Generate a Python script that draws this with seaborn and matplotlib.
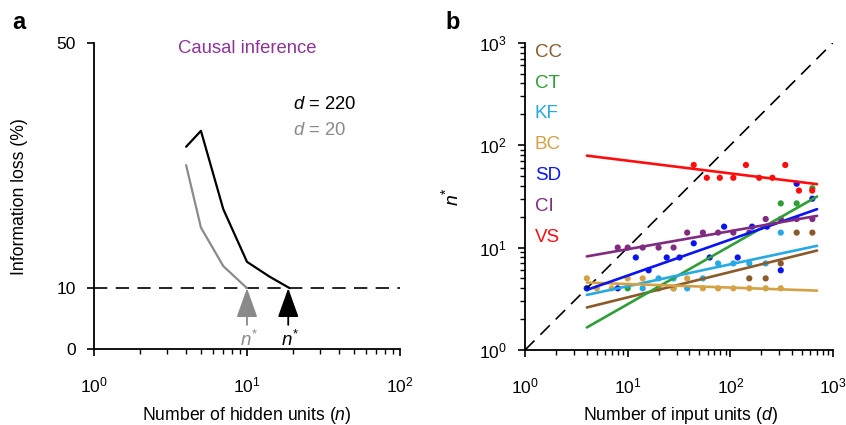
import numpy as np
import pandas as pd
import seaborn as sns
import matplotlib.pyplot as plt

# ---- panel a: information loss vs hidden units (causal inference)
n_hidden_220 = [4, 5, 7, 10, 14, 19]
loss_220 = [33.1, 35.7, 22.9, 14.3, 11.9, 10.0]
n_hidden_20 = [4, 5, 7, 10]
loss_20 = [30.1, 19.9, 13.6, 10.0]
nstar_220 = 18.6
nstar_20 = 10

# ---- panel b: n* vs number of input units
tasks = ['CC', 'CT', 'KF', 'BC', 'SD', 'CI', 'VS']
colors = ['#8B5A2B', '#2E9F36', '#27AAE1', '#D4A144', '#0A14F0', '#7F2B81', '#FF0D0D']

d_cc = [153, 221, 310, 443, 630]
n_cc = [5, 5, 7, 14, 14]
d_ct = [10, 20, 28, 310, 443, 630]
n_ct = [4, 4, 4, 27, 27, 38]
d_kf = [4, 14, 20, 28, 38, 54, 76, 107, 153, 221, 310]
n_kf = [4, 4, 5, 5, 4, 5, 7, 7, 7, 7, 14]
d_bc = [4, 5, 7, 10, 14, 20, 28, 38, 54, 76, 107, 153, 221, 310]
n_bc = [5, 4, 4, 5, 5, 4, 4, 5, 4, 4, 4, 4, 4, 4]
d_sd = [4, 8, 12, 16, 24, 32, 44, 63, 87, 118, 163, 228, 310, 443, 630]
n_sd = [4, 4, 8, 6, 8, 8, 11, 8, 16, 8, 16, 16, 6, 42, 30]
d_ci = [8, 10, 14, 20, 28, 38, 54, 76, 107, 153, 221, 310, 443, 630]
n_ci = [10, 10, 10, 10, 10, 14, 14, 14, 14, 14, 19, 19, 19, 19]
d_vs = [44, 59, 79, 107, 142, 191, 257, 343, 466, 628]
n_vs = [64, 48, 48, 48, 64, 48, 48, 64, 36, 36]

# fitted power-law lines, value at d = 4 and d = 700
fit_d = [4, 700]
fit_cc = [2.6, 9.35]
fit_ct = [1.66, 31.5]
fit_kf = [3.45, 10.4]
fit_bc = [4.55, 3.8]
fit_sd = [3.86, 23.7]
fit_ci = [8.2, 20.4]
fit_vs = [79, 41.6]

pts = pd.concat([
    pd.DataFrame({'d': d, 'n': n, 'task': t})
    for t, d, n in zip(tasks, [d_cc, d_ct, d_kf, d_bc, d_sd, d_ci, d_vs],
                       [n_cc, n_ct, n_kf, n_bc, n_sd, n_ci, n_vs])
])
fits = pd.concat([
    pd.DataFrame({'d': fit_d, 'n': f, 'task': t})
    for t, f in zip(tasks, [fit_cc, fit_ct, fit_kf, fit_bc, fit_sd, fit_ci, fit_vs])
])
pal = dict(zip(tasks, colors))

sns.set_style('ticks')
plt.rcParams['font.family'] = ['Liberation Sans', 'DejaVu Sans']
plt.rcParams['mathtext.fontset'] = 'custom'
plt.rcParams['mathtext.rm'] = 'Liberation Sans'
plt.rcParams['mathtext.it'] = 'Liberation Sans:italic'
plt.rcParams['axes.linewidth'] = 1.3
for k in ['text.color', 'axes.labelcolor', 'xtick.color', 'ytick.color', 'axes.edgecolor']:
    plt.rcParams[k] = 'black'

fig = plt.figure(figsize=(8.46, 4.25), dpi=100)
ax1 = fig.add_axes([0.1111, 0.178, 0.3617, 0.72])
ax2 = fig.add_axes([0.6206, 0.1765, 0.364, 0.723])

# ---------- panel a
ax1.set_xscale('log')
ax1.axhline(10, color='black', lw=1.2, ls=(0, (8, 5)))
sns.lineplot(x=n_hidden_220, y=loss_220, color='black', lw=1.6, ax=ax1, sort=False)
sns.lineplot(x=n_hidden_20, y=loss_20, color='#8A8A8A', lw=1.6, ax=ax1, sort=False)
for xs, c in [(nstar_20, '#8A8A8A'), (nstar_220, 'black')]:
    ax1.annotate('', xy=(xs, 10), xytext=(xs, 4.0),
                 arrowprops=dict(arrowstyle='-|>,head_length=1.4,head_width=0.5',
                                 color=c, lw=1.3, shrinkA=0, shrinkB=0,
                                 mutation_scale=13))
    ax1.text(xs * 1.03, 1.6, '$n^{*}$', color=c, fontsize=13.5, ha='center', va='center')
ax1.text(10, 49.2, 'Causal inference', color='#8E3399', fontsize=13.3,
         ha='center', va='center')
ax1.text(20.1, 40.0, '$d$ = 220', color='black', fontsize=13.3, ha='left', va='center')
ax1.text(20.1, 35.8, '$d$ = 20', color='#8A8A8A', fontsize=13.3, ha='left', va='center')
ax1.set_xlim(1, 100)
ax1.set_ylim(0, 50)
ax1.set_yticks([0, 10, 50])
ax1.set_xlabel('Number of hidden units ($n$)', fontsize=12.7)
ax1.set_ylabel('Information loss (%)', fontsize=12.7)
ax1.xaxis.set_label_coords(0.5, -0.182)
ax1.yaxis.set_label_coords(-0.216, 0.5)

# ---------- panel b
ax2.set_xscale('log')
ax2.set_yscale('log')
ax2.plot([1, 1000], [1, 1000], color='black', lw=1.2, ls=(0, (8, 5)))
sns.scatterplot(data=pts, x='d', y='n', hue='task', palette=pal, s=20,
                linewidth=0, legend=False, ax=ax2)
sns.lineplot(data=fits, x='d', y='n', hue='task', palette=pal, lw=1.9,
             legend=False, ax=ax2)
for i, (t, c) in enumerate(zip(tasks, colors)):
    ax2.text(0.032, 0.969 - i * 0.1003, t, color=c, fontsize=13.5,
             transform=ax2.transAxes, ha='left', va='center')
ax2.set_xlim(1, 1000)
ax2.set_ylim(1, 1000)
ax2.set_xlabel('Number of input units ($d$)', fontsize=12.7)
ax2.set_ylabel('$n^{*}$', fontsize=14)
ax2.xaxis.set_label_coords(0.505, -0.178)
ax2.yaxis.set_label_coords(-0.205, 0.5)

for ax in (ax1, ax2):
    sns.despine(ax=ax)
    ax.tick_params(which='major', length=5, width=1.2, labelsize=12.5)
    ax.tick_params(which='minor', length=3.5, width=1.0)
    ax.tick_params(axis='x', which='major', pad=14)
    ax.tick_params(axis='y', which='major', pad=8)

fig.text(0.014, 0.948, 'a', fontsize=17, fontweight='bold', va='center')
fig.text(0.526, 0.948, 'b', fontsize=17, fontweight='bold', va='center')

fig.savefig('out.png', dpi=100)
